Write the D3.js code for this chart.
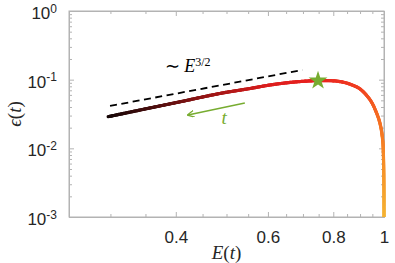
<!DOCTYPE html>
<html>
<head>
<meta charset="utf-8">
<script src="https://cdn.jsdelivr.net/npm/d3@7"></script>
<style>
  body { margin: 0; background: #fff; }
  text { font-family: "Liberation Sans", Arial, sans-serif; }
</style>
</head>
<body>
<div id="chart"></div>
<script>
// curve: E(t) vs epsilon(t)
var energy  = [0.297, 0.357, 0.408, 0.486, 0.555, 0.606, 0.676, 0.748, 0.807, 0.843, 0.869, 0.900, 0.941, 0.966, 0.983, 0.994, 0.998, 0.9998, 1.0];
var epsilon = [0.0289, 0.0387, 0.0477, 0.0630, 0.0744, 0.0837, 0.0926, 0.0969, 0.0957, 0.0904, 0.0837, 0.0732, 0.0506, 0.0339, 0.0227, 0.0133, 0.0068, 0.0025, 0.0010];

// ~E^{3/2} guide line end points
var guideE   = [0.2995, 0.698];
var guideEps = [0.0414, 0.1384];

// star marker (maximum)
var peakE = [0.748];
var peakEps = [0.0969];

// time arrow (tail -> head)
var arrowE   = [0.542, 0.422];
var arrowEps = [0.0458, 0.0306];

// axes
var xDomain = [0.25, 1];
var yDomain = [1e-3, 1];
var xMajor = [0.4, 0.6, 0.8, 1];
var xMinor = [0.3, 0.35, 0.45, 0.5, 0.55, 0.65, 0.7, 0.75, 0.85, 0.9, 0.95];
var yMajor = [1e-3, 1e-2, 1e-1, 1];
var yExp   = ["-3", "-2", "-1", "0"];

var W = 395, H = 263;
var margin = {top: 11, right: 11, bottom: 46, left: 69};
var width = W - margin.left - margin.right,
    height = H - margin.top - margin.bottom;

var svg = d3.select("#chart").append("svg")
    .attr("width", W).attr("height", H);
var g = svg.append("g")
    .attr("transform", "translate(" + margin.left + "," + margin.top + ")");

var x = d3.scaleLog().domain(xDomain).range([0, width]);
var y = d3.scaleLog().domain(yDomain).range([height, 0]);

// minor y ticks 2..9 per decade
var yMinor = [];
[1e-3, 1e-2, 1e-1].forEach(function(p) {
  for (var k = 2; k <= 9; k++) yMinor.push(p * k);
});

var axisColor = "#b3b3b3";
var labelColor = "#262626";

function styleAxis(sel) {
  sel.select(".domain").attr("stroke", axisColor).attr("stroke-width", 1);
  sel.selectAll(".tick line").attr("stroke", axisColor);
}

// minor ticks (all four sides)
g.append("g").attr("transform", "translate(0," + height + ")")
  .call(d3.axisBottom(x).tickValues(xMinor).tickSizeInner(-3).tickSizeOuter(0).tickFormat(""))
  .call(styleAxis);
g.append("g")
  .call(d3.axisTop(x).tickValues(xMinor).tickSizeInner(-3).tickSizeOuter(0).tickFormat(""))
  .call(styleAxis);
g.append("g")
  .call(d3.axisLeft(y).tickValues(yMinor).tickSizeInner(-3).tickSizeOuter(0).tickFormat(""))
  .call(styleAxis);
g.append("g").attr("transform", "translate(" + width + ",0)")
  .call(d3.axisRight(y).tickValues(yMinor).tickSizeInner(-3).tickSizeOuter(0).tickFormat(""))
  .call(styleAxis);

// major ticks
var xAxis = g.append("g").attr("transform", "translate(0," + height + ")")
  .call(d3.axisBottom(x).tickValues(xMajor).tickSizeInner(-5).tickSizeOuter(0).tickPadding(14)
    .tickFormat(function(d) { return d === 1 ? "1" : d3.format(".1f")(d); }))
  .call(styleAxis);
xAxis.selectAll(".tick text")
  .attr("fill", labelColor).style("font-size", "17px")
  .style("font-family", "'Liberation Sans', Arial, sans-serif");

g.append("g")
  .call(d3.axisTop(x).tickValues(xMajor).tickSizeInner(-5).tickSizeOuter(0).tickFormat(""))
  .call(styleAxis);
g.append("g").attr("transform", "translate(" + width + ",0)")
  .call(d3.axisRight(y).tickValues(yMajor).tickSizeInner(-5).tickSizeOuter(0).tickFormat(""))
  .call(styleAxis);

var yAxis = g.append("g")
  .call(d3.axisLeft(y).tickValues(yMajor).tickSizeInner(-5).tickSizeOuter(0).tickPadding(12).tickFormat(""))
  .call(styleAxis);
yAxis.selectAll(".tick text").each(function(d, i) {
  var t = d3.select(this)
    .attr("fill", labelColor)
    .attr("dy", "0.45em")
    .style("font-size", "17px")
    .style("font-family", "'Liberation Sans', Arial, sans-serif");
  t.append("tspan").text("10");
  t.append("tspan").attr("dy", "-0.55em").style("font-size", "12px").text(yExp[i]);
});

// box
g.append("rect").attr("width", width).attr("height", height)
  .attr("fill", "none").attr("stroke", axisColor).attr("stroke-width", 1);

// clip for data
svg.append("defs").append("clipPath").attr("id", "clip")
  .append("rect").attr("x", -2).attr("width", width + 4).attr("height", height);
var plot = g.append("g").attr("clip-path", "url(#clip)");

// dashed guide
plot.append("line")
  .attr("x1", x(guideE[0])).attr("y1", y(guideEps[0]))
  .attr("x2", x(guideE[1])).attr("y2", y(guideEps[1]))
  .attr("stroke", "#000").attr("stroke-width", 1.8)
  .attr("stroke-dasharray", "7,4.5");

// main curve, colored along its length
var pts = energy.map(function(e, i) { return [x(e), y(epsilon[i])]; });
var line = d3.line().curve(d3.curveCatmullRom.alpha(0.5));
var tmp = plot.append("path").attr("d", line(pts)).attr("fill", "none").attr("stroke", "none");
var node = tmp.node();
var total = node.getTotalLength();

var color = d3.scaleLinear()
  .domain([0, 0.12, 0.28, 0.42, 0.55, 0.66, 0.74, 0.85, 1])
  .range(["#150707", "#4a0e0e", "#a01616", "#dc1e1e", "#ea2220", "#f04020", "#f56a22", "#f68a26", "#f5b232"])
  .interpolate(d3.interpolateRgb);

var step = 1;
var prev = node.getPointAtLength(0);
for (var s = step; s <= total + step; s += step) {
  var L = Math.min(s, total);
  var p = node.getPointAtLength(L);
  plot.append("line")
    .attr("x1", prev.x).attr("y1", prev.y)
    .attr("x2", p.x).attr("y2", p.y)
    .attr("stroke", color(L / total))
    .attr("stroke-width", 3.2)
    .attr("stroke-linecap", "round");
  prev = p;
  if (L >= total) break;
}

// star at peak
var green = "#77ac30";
g.append("path")
  .attr("d", d3.symbol().type(d3.symbolStar).size(110)())
  .attr("transform", "translate(" + x(peakE[0]) + "," + y(peakEps[0]) + ")")
  .attr("fill", green);

// time arrow
svg.append("defs").append("marker")
  .attr("id", "ah").attr("viewBox", "0 0 10 10")
  .attr("refX", 9).attr("refY", 5)
  .attr("markerWidth", 7).attr("markerHeight", 7)
  .attr("markerUnits", "userSpaceOnUse")
  .attr("orient", "auto")
  .append("path").attr("d", "M0,0 L10,5 L0,10").attr("fill", "none")
  .attr("stroke", green).attr("stroke-width", 1.8);
g.append("line")
  .attr("x1", x(arrowE[0])).attr("y1", y(arrowEps[0]))
  .attr("x2", x(arrowE[1])).attr("y2", y(arrowEps[1]))
  .attr("stroke", green).attr("stroke-width", 1.6)
  .attr("marker-end", "url(#ah)");

// annotations
g.append("text")
  .attr("x", x(0.495)).attr("y", y(0.0226))
  .attr("text-anchor", "middle")
  .attr("fill", green)
  .style("font-family", "'Liberation Serif', serif").style("font-style", "italic").style("font-size", "19px")
  .text("t");

var ann = g.append("text")
  .attr("x", x(0.381)).attr("y", y(0.1297))
  .attr("fill", "#000")
  .style("font-family", "'Liberation Serif', serif").style("font-size", "18px");
ann.append("tspan").text("\u223C ");
ann.append("tspan").style("font-style", "italic").text("E");
ann.append("tspan").attr("dy", "-0.5em").style("font-size", "12px").text("3/2");

// axis labels
var xl = svg.append("text")
  .attr("x", margin.left + width / 2).attr("y", 259)
  .attr("text-anchor", "middle")
  .attr("fill", labelColor)
  .style("font-family", "'Liberation Serif', serif").style("font-size", "19px");
xl.append("tspan").style("font-style", "italic").text("E");
xl.append("tspan").text("(");
xl.append("tspan").style("font-style", "italic").text("t");
xl.append("tspan").text(")");

var yl = svg.append("text")
  .attr("transform", "translate(21," + (margin.top + height / 2) + ") rotate(-90)")
  .attr("text-anchor", "middle")
  .attr("fill", labelColor)
  .style("font-family", "'Liberation Serif', serif").style("font-size", "19px");
yl.append("tspan").style("font-style", "italic").text("\u03F5");
yl.append("tspan").text("(");
yl.append("tspan").style("font-style", "italic").text("t");
yl.append("tspan").text(")");
</script>
</body>
</html>
